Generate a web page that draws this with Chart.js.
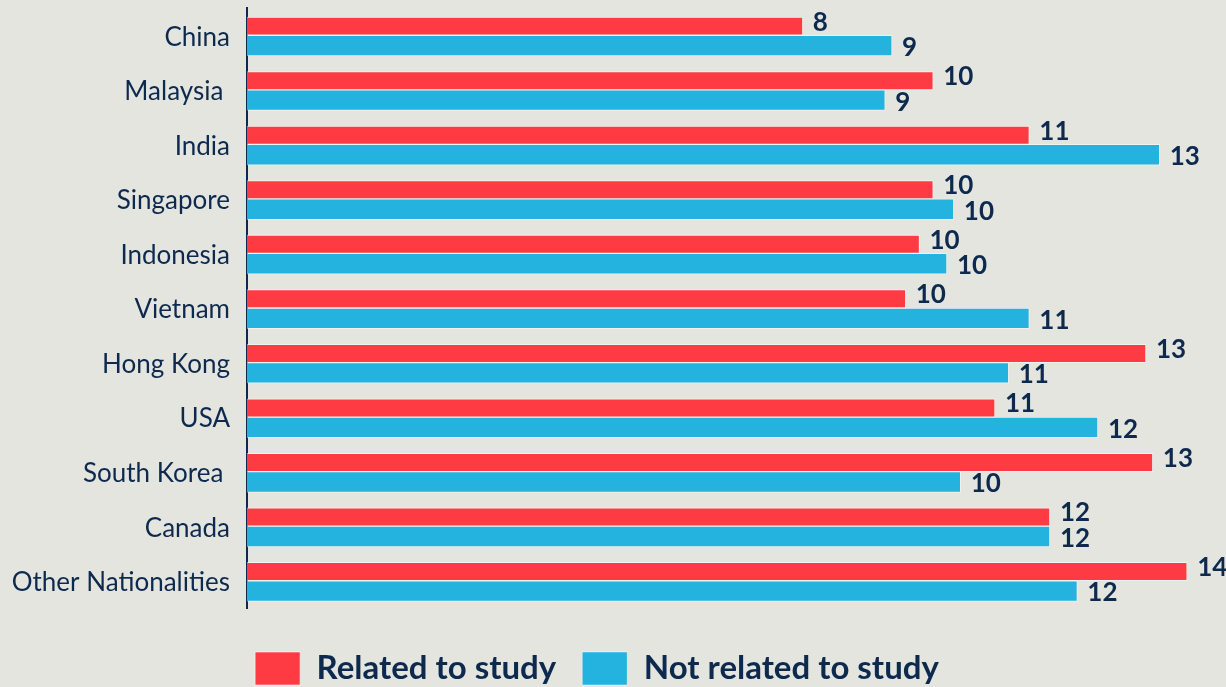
<!DOCTYPE html>
<html>
<head>
<meta charset="utf-8">
<script src="https://cdn.jsdelivr.net/npm/chart.js@4/dist/chart.umd.min.js"></script>
<style>
  html, body { margin: 0; padding: 0; background: #E5E5E0; }
  #wrap { width: 1226px; height: 687px; position: relative; }
</style>
</head>
<body>
<div id="wrap"><canvas id="c" width="1226" height="687"></canvas></div>
<script>
const categories = ["China", "Malaysia ", "India", "Singapore", "Indonesia", "Vietnam", "Hong Kong", "USA", "South Korea ", "Canada", "Other Nationalities"];
const relatedToStudy = [8.1, 10.0, 11.4, 10.0, 9.8, 9.6, 13.1, 10.9, 13.2, 11.7, 13.7];
const notRelatedToStudy = [9.4, 9.3, 13.3, 10.3, 10.2, 11.4, 11.1, 12.4, 10.4, 11.7, 12.1];
const seriesNames = ["Related to study", "Not related to study"];

const NAVY = '#0D2A4E';
const RED = '#FE3A43';
const BLUE = '#24B2DE';

const bgPlugin = {
  id: 'bg',
  beforeDraw(chart) {
    const ctx = chart.ctx;
    ctx.save();
    ctx.fillStyle = '#E5E5E0';
    ctx.fillRect(0, 0, chart.width, chart.height);
    ctx.restore();
  }
};

const valueLabels = {
  id: 'valueLabels',
  afterDatasetsDraw(chart) {
    const ctx = chart.ctx;
    ctx.save();
    ctx.font = 'bold 26px Lato';
    ctx.fillStyle = NAVY;
    ctx.textAlign = 'left';
    ctx.textBaseline = 'middle';
    const offsets = [-4, 2];
    chart.data.datasets.forEach((ds, di) => {
      const meta = chart.getDatasetMeta(di);
      meta.data.forEach((bar, i) => {
        const v = ds.data[i];
        ctx.fillText(String(Math.round(v)), bar.x + 10, bar.y + offsets[di]);
      });
    });
    ctx.restore();
  }
};

new Chart(document.getElementById('c'), {
  type: 'bar',
  data: {
    labels: categories,
    datasets: [
      {
        label: seriesNames[0],
        data: relatedToStudy,
        backgroundColor: RED,
        borderColor: 'rgba(255,255,255,0.55)',
        borderWidth: 1,
        barThickness: 18.3,
        clip: false
      },
      {
        label: seriesNames[1],
        data: notRelatedToStudy,
        backgroundColor: BLUE,
        borderColor: 'rgba(255,255,255,0.45)',
        borderWidth: 1,
        barThickness: 20.7,
        clip: false
      }
    ]
  },
  options: {
    indexAxis: 'y',
    responsive: false,
    animation: false,
    devicePixelRatio: 1,
    layout: { padding: { top: 8, bottom: -8, left: 0, right: 32 } },
    scales: {
      x: {
        min: 0,
        max: 13.8,
        display: true,
        ticks: { display: false },
        grid: { display: false, drawTicks: false },
        border: { display: false },
        afterFit(scale) { scale.height = 18; scale.paddingLeft = 0; scale.paddingRight = 0; }
      },
      y: {
        offset: true,
        ticks: {
          color: NAVY,
          font: { family: 'Lato', size: 26 },
          padding: 17,
          labelOffset: 2,
          autoSkip: false
        },
        grid: { display: false, drawTicks: false },
        border: { display: true, color: NAVY, width: 2 },
        afterFit(scale) { scale.width = 247; scale.paddingTop = 0; scale.paddingBottom = 0; }
      }
    },
    plugins: {
      tooltip: { enabled: false },
      legend: {
        position: 'bottom',
        align: 'center',
        labels: {
          color: NAVY,
          font: { family: 'Lato', size: 33, weight: 'bold' },
          boxWidth: 45,
          boxHeight: 33,
          padding: 26
        }
      }
    }
  },
  plugins: [bgPlugin, valueLabels]
});
</script>
</body>
</html>
